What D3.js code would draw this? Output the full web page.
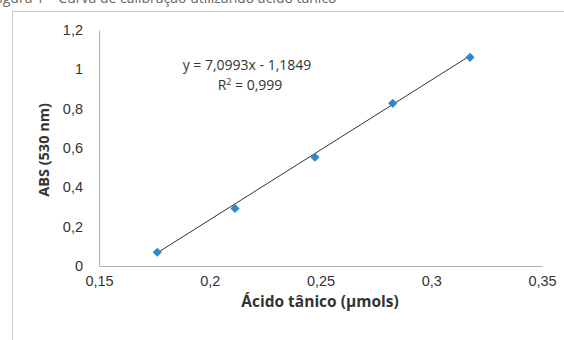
<!DOCTYPE html>
<html>
<head>
<meta charset="utf-8">
<script src="https://cdn.jsdelivr.net/npm/d3@7"></script>
<style>
  body { margin: 0; background: #fff; }
  svg { display: block; font-family: "Open Sans", sans-serif; }
</style>
</head>
<body>
<div class="chart"></div>
<script>
// dados
const acido = [0.1763, 0.2114, 0.2475, 0.2826, 0.3175];
const abs = [0.07, 0.293, 0.553, 0.827, 1.061];
const xTicks = [0.15, 0.2, 0.25, 0.3, 0.35];
const yTicks = [0, 0.2, 0.4, 0.6, 0.8, 1, 1.2];
const slope = 7.0993;
const intercept = -1.1849;

const svg_width = 564;
const svg_height = 340;
const margin = {top: 30, right: 22, bottom: 74, left: 99};
const chart_width = svg_width - margin.left - margin.right;
const chart_height = svg_height - margin.top - margin.bottom;

const svg = d3.select('.chart').append('svg')
  .attr('width', svg_width).attr('height', svg_height);

// legenda da figura (cortada no topo)
svg.append('text').attr('x', -8).attr('y', 3)
  .text('Figura 1 – Curva de calibração utilizando ácido tânico')
  .style('font-size', '14px').style('fill', '#666');

// moldura do gráfico
svg.append('rect').attr('x', 12.5).attr('y', 11.5)
  .attr('width', 600).attr('height', 400)
  .style('fill', 'none').style('stroke', '#c8c8c8');

const g = svg.append('g').attr('transform', `translate(${margin.left},${margin.top})`);

const xScale = d3.scaleLinear().domain([0.15, 0.35]).range([0, chart_width]);
const yScale = d3.scaleLinear().domain([0, 1.2]).range([chart_height, 0]);

const fmt = d => d3.format('~g')(d).replace('.', ',');

// eixo x
const xAxis = d3.axisBottom(xScale).tickValues(xTicks).tickFormat(fmt).tickSize(0).tickPadding(10);
const xg = g.append('g').attr('transform', `translate(0,${chart_height})`).call(xAxis);
xg.select('.domain').style('stroke', '#b0b0b0');
xg.selectAll('text').style('font-size', '14.5px').style('fill', '#333');

// eixo y
const yAxis = d3.axisLeft(yScale).tickValues(yTicks).tickFormat(fmt).tickSize(0).tickPadding(16);
const yg = g.append('g').call(yAxis);
yg.select('.domain').style('stroke', '#b0b0b0');
yg.selectAll('text').style('font-size', '14.5px').style('fill', '#333');

// linha de tendência
const x0 = d3.min(acido), x1 = d3.max(acido);
g.append('line')
  .attr('x1', xScale(x0)).attr('y1', yScale(slope * x0 + intercept))
  .attr('x2', xScale(x1)).attr('y2', yScale(slope * x1 + intercept))
  .style('stroke', '#333').style('stroke-width', 1);

// pontos (quadrado girado 45°)
g.selectAll('.pt').data(acido).enter()
  .append('path').attr('class', 'pt')
  .attr('d', d3.symbol().type(d3.symbolSquare).size(42))
  .attr('transform', (d, i) => `translate(${xScale(d)},${yScale(abs[i])}) rotate(45)`)
  .style('fill', '#2e89cc');

// equação
const eq = g.append('text').attr('text-anchor', 'middle')
  .style('font-size', '14px').style('fill', '#333');
eq.append('tspan').attr('x', 148).attr('y', 40).text('y = 7,0993x - 1,1849');
const r2 = g.append('text').attr('text-anchor', 'middle').attr('x', 151).attr('y', 60)
  .style('font-size', '14px').style('fill', '#333');
r2.append('tspan').text('R');
r2.append('tspan').text('2').attr('dy', -5).style('font-size', '9px');
r2.append('tspan').text(' = 0,999').attr('dy', 5);

// títulos dos eixos
svg.append('text').attr('x', 320).attr('y', 307).attr('text-anchor', 'middle')
  .text('Ácido tânico (μmols)')
  .style('font-size', '15.5px').style('font-weight', 'bold').style('fill', '#333');
svg.append('text').attr('transform', 'translate(49,150) rotate(-90)').attr('text-anchor', 'middle')
  .text('ABS (530 nm)')
  .style('font-size', '14.5px').style('font-weight', 'bold').style('fill', '#333');
</script>
</body>
</html>
